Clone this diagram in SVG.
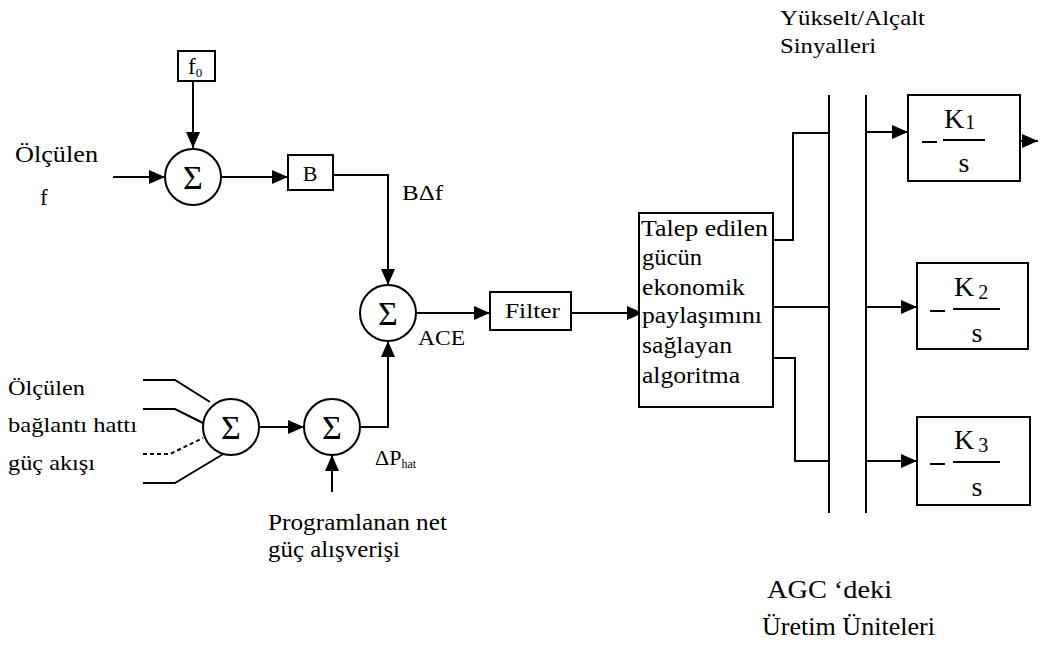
<svg xmlns="http://www.w3.org/2000/svg" width="1049" height="665" viewBox="0 0 1049 665">
<style>
text{font-family:"Liberation Serif","DejaVu Serif",serif;font-size:23px;fill:#000}
.box{fill:#fff;stroke:#000;stroke-width:2}
.sum{fill:#fff;stroke:#000;stroke-width:2}
.ln{fill:none;stroke:#000;stroke-width:2}
.dash{fill:none;stroke:#000;stroke-width:2;stroke-dasharray:4 3}
.arr{fill:none;stroke:#000;stroke-width:2;marker-end:url(#ah)}
.sig{font-size:25px}
.sm{font-size:22px}
.mid{text-anchor:middle}
.S{font-size:34px;text-anchor:middle}
.K{font-size:28px}
</style>
<defs>
<marker id="ah" viewBox="0 0 16 14" refX="16" refY="7" markerWidth="16" markerHeight="14" markerUnits="userSpaceOnUse" orient="auto"><path d="M0,0 L16,7 L0,14 z" fill="#000"/></marker>
</defs>
<rect width="1049" height="665" fill="#fff"/>

<g id="connectors">
<line class="arr" x1="193" y1="81" x2="193" y2="148"/>
<line class="arr" x1="113" y1="177" x2="165" y2="177"/>
<line class="arr" x1="221" y1="177" x2="288" y2="177"/>
<polyline class="arr" points="333,175 388,175 388,285"/>
<line class="arr" x1="416" y1="313" x2="490" y2="313"/>
<line class="arr" x1="571" y1="313" x2="643" y2="313"/>
<polyline class="ln" points="143,380 175,380 210,402"/>
<polyline class="ln" points="143,409 175,409 203,423"/>
<polyline class="dash" points="143,454 170,454 203,438"/>
<polyline class="ln" points="143,483 175,483 225,453"/>
<line class="arr" x1="259" y1="427" x2="304" y2="427"/>
<polyline class="arr" points="360,427 388,427 388,341"/>
<line class="arr" x1="332" y1="492" x2="332" y2="455"/>
<polyline class="ln" points="773,240 793,240 793,133 829,133"/>
<line class="ln" x1="773" y1="307" x2="829" y2="307"/>
<polyline class="ln" points="773,358 795,358 795,461 829,461"/>
<line class="ln" x1="829" y1="95" x2="829" y2="513"/>
<line class="ln" x1="866" y1="95" x2="866" y2="513"/>
<line class="arr" x1="866" y1="132" x2="908" y2="132"/>
<line class="arr" x1="866" y1="307" x2="917" y2="307"/>
<line class="arr" x1="866" y1="461" x2="917" y2="461"/>
<line class="arr" x1="1020" y1="141" x2="1038" y2="141"/>
</g>

<g id="f0">
<rect class="box" x="178" y="51" width="37" height="30"/>
<text x="188" y="74">f<tspan font-size="13" dy="3">0</tspan></text>
</g>
<g id="sum1"><circle class="sum" cx="193" cy="177" r="28"/><text class="S" x="193" y="189">Σ</text></g>
<g id="B"><rect class="box" x="288" y="155" width="45" height="35"/><text class="mid sm" x="310" y="181">B</text></g>
<g id="sum2"><circle class="sum" cx="388" cy="313" r="28"/><text class="S" x="388" y="325">Σ</text></g>
<g id="filter"><rect class="box" x="490" y="292" width="81" height="38"/><text class="sm" x="505" y="318" textLength="55" lengthAdjust="spacingAndGlyphs">Filter</text></g>
<g id="sum3"><circle class="sum" cx="231" cy="427" r="28"/><text class="S" x="231" y="439">Σ</text></g>
<g id="sum4"><circle class="sum" cx="332" cy="427" r="28"/><text class="S" x="332" y="439">Σ</text></g>

<g id="algo">
<rect class="box" x="639" y="213" width="134" height="194"/>
<text x="641" y="236" textLength="127" lengthAdjust="spacingAndGlyphs">Talep edilen</text>
<text x="642" y="265" textLength="60" lengthAdjust="spacingAndGlyphs">gücün</text>
<text x="642" y="295" textLength="103" lengthAdjust="spacingAndGlyphs">ekonomik</text>
<text x="642" y="323" textLength="120" lengthAdjust="spacingAndGlyphs">paylaşımını</text>
<text x="642" y="353" textLength="90" lengthAdjust="spacingAndGlyphs">sağlayan</text>
<text x="642" y="383" textLength="98" lengthAdjust="spacingAndGlyphs">algoritma</text>
</g>

<g id="K1">
<rect class="box" x="908" y="95" width="112" height="86"/>
<line class="ln" x1="922" y1="142" x2="937" y2="142"/>
<line class="ln" x1="943" y1="140" x2="985" y2="140"/>
<text class="K" x="944" y="128">K<tspan font-size="20" dx="1" dy="1">1</tspan></text>
<text class="K mid" x="964" y="172">s</text>
</g>
<g id="K2">
<rect class="box" x="917" y="263" width="111" height="86"/>
<line class="ln" x1="930" y1="311" x2="945" y2="311"/>
<line class="ln" x1="953" y1="309" x2="1000" y2="309"/>
<text class="K" x="954" y="296">K<tspan font-size="20" dx="4" dy="3">2</tspan></text>
<text class="K mid" x="977" y="342">s</text>
</g>
<g id="K3">
<rect class="box" x="917" y="417" width="113" height="88"/>
<line class="ln" x1="930" y1="464" x2="945" y2="464"/>
<line class="ln" x1="953" y1="462" x2="1000" y2="462"/>
<text class="K" x="954" y="449">K<tspan font-size="20" dx="4" dy="3">3</tspan></text>
<text class="K mid" x="977" y="496">s</text>
</g>

<g id="labels">
<text x="15" y="162" textLength="83" lengthAdjust="spacingAndGlyphs">Ölçülen</text>
<text x="40" y="205">f</text>
<text class="sm" x="402" y="200" textLength="41" lengthAdjust="spacingAndGlyphs">BΔf</text>
<text class="sm" x="418" y="345" textLength="47" lengthAdjust="spacingAndGlyphs">ACE</text>
<text class="sm" x="8" y="395" textLength="77" lengthAdjust="spacingAndGlyphs">Ölçülen</text>
<text class="sm" x="8" y="432" textLength="129" lengthAdjust="spacingAndGlyphs">bağlantı hattı</text>
<text class="sm" x="8" y="470" textLength="87" lengthAdjust="spacingAndGlyphs">güç akışı</text>
<text class="sm" x="375" y="465">ΔP<tspan font-size="12" dy="3">hat</tspan></text>
<text x="268" y="530" textLength="179" lengthAdjust="spacingAndGlyphs">Programlanan net</text>
<text x="268" y="557" textLength="132" lengthAdjust="spacingAndGlyphs">güç alışverişi</text>
<text class="sm" x="780" y="25" textLength="145" lengthAdjust="spacingAndGlyphs">Yükselt/Alçalt</text>
<text class="sm" x="780" y="53" textLength="96" lengthAdjust="spacingAndGlyphs">Sinyalleri</text>
<text class="sig" x="767" y="598" textLength="125" lengthAdjust="spacingAndGlyphs">AGC ‘deki</text>
<text class="sig" x="762" y="635" textLength="173" lengthAdjust="spacingAndGlyphs">Üretim Üniteleri</text>
</g>
</svg>
